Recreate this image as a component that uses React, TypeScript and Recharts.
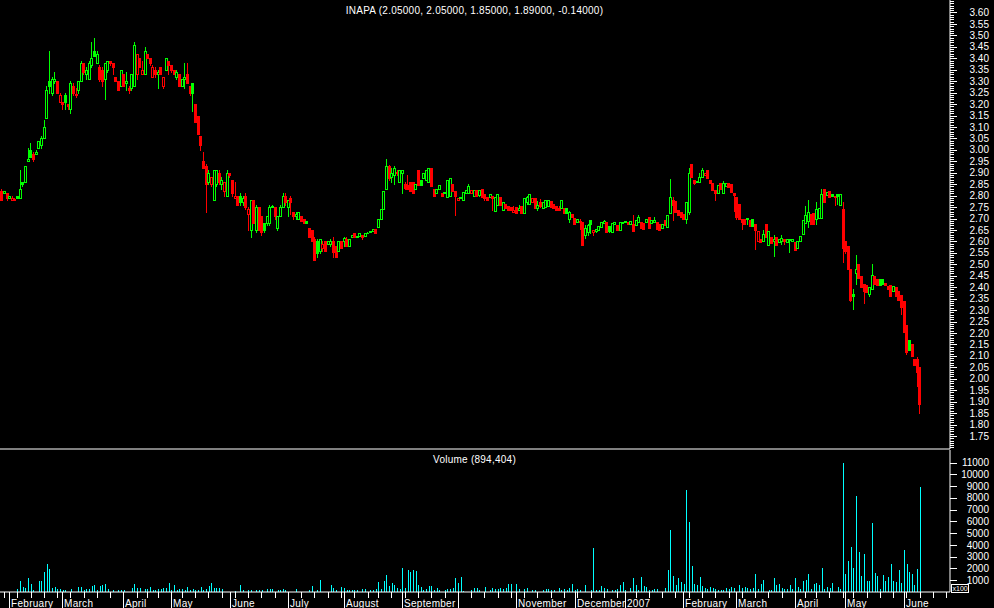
import React from "react";
import { ComposedChart, Bar, XAxis, YAxis } from "recharts";

// daily candles, Jan 27 2006 .. Jun 2007 (one row of 10 per line)
const opens = [
  2.82, 2.81, 2.81, 2.79, 2.78, 2.78, 2.8, 2.79, 2.86, 2.86,
  2.95, 3.0, 2.98, 2.98, 3.01, 3.02, 3.05, 3.14, 3.3, 3.25,
  3.3, 3.3, 3.21, 3.21, 3.24, 3.2, 3.18, 3.28, 3.24, 3.26,
  3.3, 3.38, 3.33, 3.31, 3.37, 3.43, 3.38, 3.36, 3.35, 3.31,
  3.35, 3.39, 3.38, 3.32, 3.3, 3.28, 3.33, 3.29, 3.27, 3.27,
  3.28, 3.33, 3.4, 3.33, 3.33, 3.42, 3.4, 3.32, 3.35, 3.33,
  3.36, 3.28, 3.35, 3.39, 3.37, 3.35, 3.32, 3.33, 3.28, 3.31,
  3.33, 3.28, 3.29, 3.2, 3.15, 3.06, 2.95, 2.93, 2.86, 2.85,
  2.78, 2.85, 2.9, 2.85, 2.82, 2.8, 2.9, 2.87, 2.79, 2.8,
  2.8, 2.77, 2.8, 2.72, 2.65, 2.78, 2.65, 2.75, 2.71, 2.68,
  2.68, 2.68, 2.75, 2.75, 2.66, 2.71, 2.75, 2.8, 2.75, 2.79,
  2.73, 2.71, 2.7, 2.71, 2.7, 2.69, 2.66, 2.65, 2.61, 2.6,
  2.56, 2.57, 2.6, 2.59, 2.59, 2.6, 2.58, 2.56, 2.6, 2.6,
  2.61, 2.58, 2.62, 2.635, 2.62, 2.625, 2.63, 2.625, 2.635, 2.64,
  2.645, 2.655, 2.665, 2.7, 2.74, 2.83, 2.93, 2.88, 2.89, 2.905,
  2.86, 2.9, 2.85, 2.845, 2.86, 2.86, 2.83, 2.91, 2.87, 2.875,
  2.87, 2.86, 2.92, 2.83, 2.81, 2.83, 2.81, 2.81, 2.795, 2.8,
  2.85, 2.82, 2.78, 2.795, 2.78, 2.81, 2.81, 2.81, 2.8, 2.825,
  2.802, 2.831, 2.809, 2.794, 2.794, 2.8, 2.733, 2.758, 2.794, 2.736,
  2.762, 2.754, 2.751, 2.728, 2.751, 2.735, 2.754, 2.724, 2.77, 2.765,
  2.772, 2.791, 2.748, 2.77, 2.748, 2.751, 2.754, 2.777, 2.762, 2.754,
  2.748, 2.748, 2.748, 2.745, 2.7, 2.72, 2.702, 2.685, 2.685, 2.685,
  2.63, 2.64, 2.692, 2.641, 2.645, 2.651, 2.663, 2.68, 2.685, 2.666,
  2.641, 2.675, 2.67, 2.651, 2.681, 2.684, 2.685, 2.675, 2.675, 2.67,
  2.685, 2.685, 2.68, 2.685, 2.707, 2.681, 2.685, 2.685, 2.675, 2.66,
  2.692, 2.663, 2.724, 2.78, 2.777, 2.736, 2.73, 2.72, 2.7, 2.73,
  2.94, 2.87, 2.865, 2.86, 2.88, 2.89, 2.91, 2.87, 2.855, 2.825,
  2.81, 2.853, 2.81, 2.84, 2.853, 2.85, 2.81, 2.794, 2.765, 2.7,
  2.7, 2.7, 2.695, 2.7, 2.675, 2.602, 2.612, 2.602, 2.675, 2.583,
  2.619, 2.6, 2.619, 2.597, 2.6, 2.61, 2.597, 2.605, 2.602, 2.597,
  2.573, 2.602, 2.634, 2.68, 2.69, 2.72, 2.724, 2.7, 2.704, 2.704,
  2.831, 2.802, 2.82, 2.806, 2.8, 2.809, 2.76, 2.74, 2.6, 2.58,
  2.48, 2.37, 2.46, 2.5, 2.45, 2.415, 2.41, 2.37, 2.39, 2.45,
  2.435, 2.435, 2.435, 2.42, 2.406, 2.41, 2.383, 2.4, 2.383, 2.364,
  2.34, 2.233, 2.17, 2.153, 2.087, 2.087, 2.05,
];
const highs = [
  2.83, 2.82, 2.81, 2.8, 2.8, 2.79, 2.8, 2.91, 2.86, 2.93,
  3.01, 3.03, 2.99, 3.0, 3.04, 3.06, 3.13, 3.28, 3.43, 3.32,
  3.34, 3.3, 3.25, 3.21, 3.25, 3.2, 3.3, 3.29, 3.27, 3.3,
  3.39, 3.38, 3.36, 3.39, 3.47, 3.49, 3.43, 3.37, 3.36, 3.38,
  3.39, 3.39, 3.38, 3.32, 3.3, 3.35, 3.33, 3.34, 3.28, 3.33,
  3.47, 3.42, 3.4, 3.39, 3.45, 3.42, 3.4, 3.37, 3.36, 3.35,
  3.36, 3.32, 3.4, 3.39, 3.37, 3.35, 3.35, 3.33, 3.31, 3.38,
  3.38, 3.28, 3.29, 3.2, 3.15, 3.06, 2.99, 2.94, 2.91, 2.88,
  2.91, 2.91, 2.91, 2.88, 2.86, 2.91, 2.9, 2.87, 2.86, 2.8,
  2.81, 2.8, 2.81, 2.75, 2.78, 2.78, 2.76, 2.75, 2.71, 2.68,
  2.71, 2.76, 2.76, 2.75, 2.71, 2.76, 2.81, 2.81, 2.78, 2.8,
  2.73, 2.73, 2.73, 2.71, 2.7, 2.69, 2.66, 2.65, 2.62, 2.61,
  2.61, 2.6, 2.6, 2.6, 2.61, 2.62, 2.58, 2.6, 2.6, 2.62,
  2.62, 2.61, 2.63, 2.635, 2.625, 2.635, 2.63, 2.635, 2.64, 2.645,
  2.655, 2.655, 2.7, 2.74, 2.82, 2.96, 2.935, 2.92, 2.93, 2.91,
  2.91, 2.91, 2.86, 2.89, 2.86, 2.86, 2.85, 2.91, 2.87, 2.9,
  2.91, 2.92, 2.92, 2.83, 2.83, 2.845, 2.81, 2.815, 2.87, 2.875,
  2.85, 2.82, 2.79, 2.795, 2.815, 2.825, 2.85, 2.825, 2.825, 2.825,
  2.823, 2.831, 2.809, 2.794, 2.806, 2.8, 2.794, 2.806, 2.794, 2.772,
  2.762, 2.754, 2.751, 2.754, 2.751, 2.758, 2.754, 2.791, 2.8, 2.806,
  2.791, 2.791, 2.777, 2.787, 2.772, 2.78, 2.783, 2.777, 2.762, 2.754,
  2.754, 2.783, 2.748, 2.745, 2.733, 2.72, 2.702, 2.7, 2.7, 2.685,
  2.67, 2.678, 2.692, 2.65, 2.656, 2.666, 2.685, 2.692, 2.685, 2.666,
  2.681, 2.685, 2.67, 2.685, 2.685, 2.69, 2.685, 2.69, 2.714, 2.692,
  2.714, 2.685, 2.68, 2.7, 2.707, 2.692, 2.707, 2.685, 2.675, 2.675,
  2.692, 2.714, 2.874, 2.794, 2.777, 2.736, 2.73, 2.72, 2.77, 2.92,
  2.94, 2.87, 2.865, 2.9, 2.92, 2.9, 2.91, 2.87, 2.855, 2.825,
  2.845, 2.853, 2.862, 2.853, 2.853, 2.85, 2.81, 2.794, 2.765, 2.7,
  2.7, 2.704, 2.695, 2.7, 2.675, 2.646, 2.612, 2.651, 2.675, 2.646,
  2.619, 2.627, 2.619, 2.612, 2.627, 2.612, 2.612, 2.612, 2.612, 2.597,
  2.602, 2.622, 2.695, 2.754, 2.78, 2.72, 2.724, 2.772, 2.748, 2.831,
  2.831, 2.816, 2.82, 2.806, 2.8, 2.809, 2.806, 2.77, 2.6, 2.58,
  2.48, 2.39, 2.54, 2.5, 2.45, 2.415, 2.41, 2.4, 2.5, 2.45,
  2.435, 2.435, 2.435, 2.42, 2.406, 2.41, 2.403, 2.4, 2.383, 2.364,
  2.34, 2.233, 2.17, 2.153, 2.087, 2.093, 2.05,
];
const lows = [
  2.78, 2.81, 2.78, 2.79, 2.78, 2.78, 2.79, 2.79, 2.84, 2.86,
  2.95, 2.97, 2.95, 2.98, 3.01, 3.01, 3.05, 3.14, 3.25, 3.24,
  3.29, 3.25, 3.21, 3.18, 3.18, 3.18, 3.16, 3.24, 3.23, 3.25,
  3.3, 3.33, 3.31, 3.31, 3.36, 3.41, 3.38, 3.3, 3.28, 3.22,
  3.34, 3.37, 3.33, 3.3, 3.26, 3.28, 3.28, 3.26, 3.25, 3.26,
  3.28, 3.31, 3.36, 3.33, 3.33, 3.4, 3.37, 3.32, 3.32, 3.27,
  3.33, 3.27, 3.35, 3.33, 3.34, 3.33, 3.31, 3.28, 3.28, 3.27,
  3.29, 3.24, 3.17, 3.12, 3.07, 3.0, 2.92, 2.73, 2.85, 2.84,
  2.78, 2.84, 2.85, 2.83, 2.8, 2.8, 2.88, 2.8, 2.79, 2.76,
  2.76, 2.76, 2.74, 2.65, 2.62, 2.68, 2.64, 2.65, 2.63, 2.64,
  2.67, 2.67, 2.75, 2.7, 2.65, 2.71, 2.75, 2.76, 2.71, 2.72,
  2.7, 2.7, 2.7, 2.69, 2.68, 2.68, 2.62, 2.6, 2.52, 2.53,
  2.55, 2.56, 2.56, 2.59, 2.58, 2.53, 2.53, 2.56, 2.57, 2.58,
  2.58, 2.58, 2.62, 2.62, 2.62, 2.625, 2.61, 2.625, 2.635, 2.64,
  2.645, 2.635, 2.665, 2.7, 2.74, 2.83, 2.87, 2.86, 2.85, 2.89,
  2.86, 2.81, 2.83, 2.83, 2.82, 2.81, 2.83, 2.845, 2.845, 2.875,
  2.87, 2.86, 2.84, 2.8, 2.81, 2.83, 2.8, 2.81, 2.795, 2.8,
  2.82, 2.715, 2.78, 2.79, 2.78, 2.81, 2.81, 2.81, 2.8, 2.8,
  2.8, 2.794, 2.78, 2.78, 2.794, 2.736, 2.733, 2.758, 2.758, 2.736,
  2.748, 2.739, 2.736, 2.728, 2.724, 2.735, 2.724, 2.724, 2.765, 2.765,
  2.772, 2.748, 2.739, 2.751, 2.748, 2.751, 2.754, 2.751, 2.748, 2.736,
  2.735, 2.748, 2.724, 2.724, 2.685, 2.707, 2.678, 2.685, 2.656, 2.583,
  2.617, 2.627, 2.637, 2.627, 2.641, 2.651, 2.663, 2.68, 2.641, 2.64,
  2.641, 2.675, 2.649, 2.651, 2.681, 2.684, 2.675, 2.675, 2.646, 2.67,
  2.685, 2.66, 2.656, 2.685, 2.66, 2.681, 2.685, 2.656, 2.651, 2.66,
  2.67, 2.663, 2.724, 2.692, 2.73, 2.714, 2.707, 2.7, 2.68, 2.72,
  2.88, 2.85, 2.86, 2.86, 2.88, 2.89, 2.875, 2.855, 2.825, 2.78,
  2.81, 2.83, 2.81, 2.84, 2.838, 2.816, 2.733, 2.7, 2.7, 2.656,
  2.678, 2.678, 2.666, 2.666, 2.565, 2.602, 2.597, 2.602, 2.619, 2.583,
  2.593, 2.535, 2.583, 2.597, 2.587, 2.587, 2.597, 2.554, 2.602, 2.564,
  2.573, 2.602, 2.634, 2.68, 2.663, 2.678, 2.675, 2.678, 2.704, 2.704,
  2.772, 2.802, 2.794, 2.8, 2.758, 2.765, 2.76, 2.51, 2.55, 2.48,
  2.34, 2.305, 2.415, 2.44, 2.4, 2.33, 2.38, 2.36, 2.39, 2.415,
  2.41, 2.41, 2.415, 2.41, 2.392, 2.36, 2.383, 2.36, 2.345, 2.284,
  2.204, 2.11, 2.124, 2.1, 2.058, 1.97, 1.85,
];
const closes = [
  2.78, 2.82, 2.79, 2.8, 2.79, 2.785, 2.79, 2.83, 2.85, 2.93,
  2.96, 2.97, 2.96, 2.99, 3.04, 3.05, 3.1, 3.26, 3.28, 3.31,
  3.31, 3.25, 3.24, 3.2, 3.21, 3.19, 3.29, 3.25, 3.245, 3.3,
  3.38, 3.34, 3.35, 3.38, 3.4, 3.41, 3.42, 3.31, 3.3, 3.38,
  3.39, 3.38, 3.36, 3.3, 3.26, 3.35, 3.28, 3.3, 3.26, 3.33,
  3.46, 3.42, 3.36, 3.35, 3.43, 3.4, 3.38, 3.36, 3.33, 3.34,
  3.33, 3.32, 3.4, 3.37, 3.35, 3.33, 3.34, 3.28, 3.31, 3.32,
  3.29, 3.25, 3.25, 3.12, 3.07, 3.02, 2.92, 2.85, 2.9, 2.88,
  2.91, 2.91, 2.86, 2.87, 2.86, 2.9, 2.89, 2.81, 2.8, 2.76,
  2.77, 2.79, 2.75, 2.74, 2.78, 2.68, 2.75, 2.65, 2.64, 2.65,
  2.71, 2.75, 2.755, 2.71, 2.71, 2.75, 2.8, 2.77, 2.78, 2.77,
  2.71, 2.72, 2.73, 2.69, 2.68, 2.68, 2.62, 2.6, 2.52, 2.55,
  2.61, 2.59, 2.56, 2.6, 2.6, 2.555, 2.53, 2.6, 2.57, 2.615,
  2.58, 2.61, 2.63, 2.62, 2.625, 2.635, 2.62, 2.635, 2.637, 2.645,
  2.655, 2.635, 2.7, 2.74, 2.82, 2.93, 2.875, 2.9, 2.92, 2.9,
  2.91, 2.91, 2.835, 2.83, 2.82, 2.81, 2.85, 2.845, 2.845, 2.9,
  2.91, 2.92, 2.84, 2.8, 2.83, 2.845, 2.8, 2.815, 2.87, 2.875,
  2.82, 2.8, 2.79, 2.79, 2.815, 2.825, 2.84, 2.825, 2.825, 2.8,
  2.823, 2.794, 2.79, 2.78, 2.806, 2.79, 2.794, 2.806, 2.758, 2.772,
  2.748, 2.739, 2.736, 2.735, 2.724, 2.745, 2.724, 2.791, 2.795, 2.806,
  2.791, 2.748, 2.76, 2.755, 2.772, 2.78, 2.783, 2.751, 2.748, 2.736,
  2.735, 2.783, 2.724, 2.724, 2.73, 2.707, 2.678, 2.7, 2.69, 2.583,
  2.66, 2.67, 2.675, 2.65, 2.656, 2.666, 2.685, 2.69, 2.641, 2.645,
  2.681, 2.685, 2.649, 2.685, 2.685, 2.69, 2.675, 2.69, 2.646, 2.692,
  2.707, 2.66, 2.656, 2.7, 2.66, 2.692, 2.692, 2.656, 2.651, 2.675,
  2.67, 2.714, 2.794, 2.76, 2.73, 2.714, 2.707, 2.7, 2.77, 2.9,
  2.88, 2.855, 2.86, 2.88, 2.91, 2.9, 2.875, 2.855, 2.825, 2.81,
  2.845, 2.83, 2.853, 2.853, 2.838, 2.816, 2.802, 2.705, 2.7, 2.685,
  2.678, 2.704, 2.666, 2.666, 2.651, 2.646, 2.597, 2.634, 2.619, 2.646,
  2.593, 2.61, 2.583, 2.612, 2.614, 2.6, 2.612, 2.612, 2.612, 2.564,
  2.602, 2.622, 2.695, 2.714, 2.728, 2.678, 2.675, 2.74, 2.748, 2.806,
  2.772, 2.816, 2.794, 2.8, 2.794, 2.8, 2.806, 2.57, 2.56, 2.48,
  2.345, 2.36, 2.48, 2.44, 2.4, 2.385, 2.38, 2.4, 2.455, 2.415,
  2.41, 2.41, 2.415, 2.41, 2.392, 2.36, 2.403, 2.36, 2.345, 2.313,
  2.204, 2.116, 2.124, 2.1, 2.058, 2.03, 1.89,
];
// volume in hundreds of shares
const volumes = [
  0, 0, 0, 0, 0, 0, 230, 900, 400, 300,
  1160, 700, 200, 0, 900, 900, 1670, 2400, 1920, 340,
  400, 230, 230, 140, 140, 0, 230, 0, 0, 400,
  400, 140, 230, 230, 480, 570, 140, 480, 570, 700,
  230, 0, 140, 0, 140, 140, 140, 0, 0, 310,
  650, 310, 310, 0, 230, 230, 400, 140, 140, 230,
  230, 310, 310, 740, 140, 570, 140, 230, 230, 140,
  400, 140, 230, 140, 140, 400, 140, 230, 480, 740,
  310, 310, 310, 230, 0, 0, 0, 0, 100, 0,
  570, 140, 0, 140, 140, 0, 140, 140, 140, 0,
  230, 230, 230, 0, 140, 140, 230, 140, 0, 0,
  0, 230, 0, 0, 0, 0, 140, 480, 0, 140,
  990, 0, 0, 0, 570, 310, 140, 0, 400, 310,
  140, 140, 140, 140, 140, 0, 230, 230, 0, 140,
  140, 230, 820, 230, 900, 1420, 480, 740, 570, 310,
  230, 2010, 310, 1840, 1670, 1840, 1750, 570, 400, 140,
  230, 480, 480, 140, 310, 140, 0, 140, 230, 230,
  310, 1160, 740, 1250, 100, 0, 0, 140, 310, 310,
  140, 0, 400, 0, 140, 310, 230, 230, 310, 230,
  310, 700, 700, 0, 650, 230, 0, 230, 310, 0,
  140, 140, 0, 0, 140, 230, 230, 140, 140, 0,
  310, 140, 230, 140, 310, 700, 140, 230, 140, 0,
  570, 0, 140, 3700, 140, 140, 480, 310, 230, 0,
  140, 140, 230, 570, 820, 140, 0, 310, 1160, 570,
  140, 1250, 480, 400, 140, 140, 230, 230, 0, 0,
  310, 1900, 5300, 1330, 570, 1160, 820, 650, 8630, 5920,
  2180, 650, 570, 1250, 480, 310, 230, 400, 310, 230,
  140, 140, 140, 310, 230, 400, 310, 0, 570, 310,
  400, 310, 230, 310, 1560, 230, 700, 990, 0, 140,
  140, 1160, 570, 700, 310, 230, 230, 570, 230, 1160,
  400, 230, 940, 990, 1500, 230, 650, 740, 570, 2010,
  230, 400, 310, 740, 0, 400, 230, 11000, 1560, 2600,
  3790, 2010, 8120, 3370, 1330, 3200, 900, 900, 5830, 1590,
  1330, 230, 1420, 900, 1250, 2350, 900, 820, 1840, 740,
  3540, 2350, 1670, 1500, 570, 1930, 8890,
];

// first trading day of each month (candle index) and its label
const monthStarts = [3, 23, 46, 64, 86, 108, 129, 151, 172, 194, 216, 235, 257, 277, 299, 318, 340];
const monthLabels = [
  "February", "March", "April", "May", "June", "July", "August", "September", "",
  "November", "December", "2007", "February", "March", "April", "May", "June",
];
// first trading day of each week
const weekStarts = [
  1, 6, 11, 16, 21, 26, 31, 36, 41, 46, 51, 55, 59, 64, 68, 73, 78, 83, 88, 93,
  98, 103, 108, 113, 118, 123, 128, 133, 138, 142, 147, 152, 157, 162, 167, 172,
  177, 182, 187, 192, 197, 202, 207, 212, 217, 222, 227, 232, 235, 239, 244, 249,
  254, 259, 264, 269, 274, 279, 284, 289, 294, 299, 303, 307, 312, 317, 321, 326,
  331, 336, 341, 346, 351, 356,
];
const priceLabels = [
  1.75, 1.8, 1.85, 1.9, 1.95, 2.0, 2.05, 2.1, 2.15, 2.2, 2.25, 2.3, 2.35, 2.4,
  2.45, 2.5, 2.55, 2.6, 2.65, 2.7, 2.75, 2.8, 2.85, 2.9, 2.95, 3.0, 3.05, 3.1,
  3.15, 3.2, 3.25, 3.3, 3.35, 3.4, 3.45, 3.5, 3.55, 3.6,
];
const volumeLabels = [1000, 2000, 3000, 4000, 5000, 6000, 7000, 8000, 9000, 10000, 11000];

const GREEN = "#00ff00";
const RED = "#ff0000";
const CYAN = "#00ffff";
const FONT = "'Liberation Sans', Arial, sans-serif";
const SLOTS = 357.95;
const PRICE_MIN = 1.693;
const PRICE_MAX = 3.6546;
const VOL_MAX = 12065;

const rows = opens.map((o, i) => ({
  x: i + 0.5,
  range: [lows[i], highs[i]],
  o,
  h: highs[i],
  l: lows[i],
  c: closes[i],
  pc: i > 0 ? closes[i - 1] : o,
  vol: volumes[i],
}));

const minorPrice: number[] = [];
for (let k = 170; k <= 365; k++) minorPrice.push(k / 100);

const xTicks = Array.from(new Set([...weekStarts, ...monthStarts]))
  .sort((a, b) => a - b)
  .map((i) => i + 0.5);

function Candle(props: any) {
  const { x, y, width, height, payload } = props;
  if (x == null || y == null || !payload) return null;
  const { o, h, l, c, pc } = payload;
  const cx = Math.round(x + width / 2);
  const span = h - l;
  const toY = (v: number) => (span > 0 ? y + ((h - v) / span) * height : y);
  const color = c >= pc ? GREEN : RED;
  const yH = Math.round(toY(h));
  const yL = Math.round(toY(l));
  const yTop = Math.round(toY(Math.max(o, c)));
  const yBot = Math.round(toY(Math.min(o, c)));
  const hollow = c > o && yBot - yTop >= 2;
  if (hollow) {
    return (
      <g shapeRendering="crispEdges">
        {yTop > yH && <rect x={cx} y={yH} width={1} height={yTop - yH} fill={color} />}
        {yL > yBot && <rect x={cx} y={yBot + 1} width={1} height={yL - yBot} fill={color} />}
        <rect x={cx - 0.5} y={yTop + 0.5} width={2} height={yBot - yTop} fill="none" stroke={color} />
      </g>
    );
  }
  return (
    <g shapeRendering="crispEdges">
      <rect x={cx} y={yH} width={1} height={Math.max(1, yL - yH + 1)} fill={color} />
      <rect x={cx - 1} y={yTop} width={3} height={Math.max(1, yBot - yTop + 1)} fill={color} />
    </g>
  );
}

function VolBar(props: any) {
  const { x, y, width, height } = props;
  if (x == null || !height || height < 0.5) return null;
  const cx = Math.round(x + width / 2);
  const top = Math.round(y);
  const bot = Math.round(y + height);
  return <rect x={cx} y={top} width={1} height={Math.max(1, bot - top)} fill={CYAN} shapeRendering="crispEdges" />;
}

function PriceTick(props: any) {
  const { y, payload } = props;
  const v = payload.value;
  const major = priceLabels.some((p) => Math.abs(p - v) < 1e-6);
  const yy = Math.round(y) + 0.5;
  return (
    <g>
      <line x1={950} x2={major ? 957 : 954} y1={yy} y2={yy} stroke="#fff" shapeRendering="crispEdges" />
      {major && (
        <text x={989} y={y + 3.6} textAnchor="end" fill="#fff" fontSize={10} fontFamily={FONT}>
          {v.toFixed(2)}
        </text>
      )}
    </g>
  );
}

function VolTick(props: any) {
  const { y, payload } = props;
  const yy = Math.round(y) + 0.5;
  return (
    <g>
      <line x1={950} x2={957} y1={yy} y2={yy} stroke="#fff" shapeRendering="crispEdges" />
      <text x={989} y={y + 3.6} textAnchor="end" fill="#fff" fontSize={10} fontFamily={FONT}>
        {payload.value}
      </text>
    </g>
  );
}

function DateTick(props: any) {
  const { x, payload } = props;
  const idx = payload.value - 0.5;
  const m = monthStarts.indexOf(idx);
  const xx = Math.round(x) + 0.5;
  return (
    <g>
      <line x1={xx} x2={xx} y1={143} y2={m >= 0 ? 159 : 149} stroke="#fff" shapeRendering="crispEdges" />
      {m >= 0 && monthLabels[m] && (
        <text x={xx + 1.5} y={157.5} fill="#fff" fontSize={10} letterSpacing={0.3} fontFamily={FONT}>
          {monthLabels[m]}
        </text>
      )}
    </g>
  );
}

export default function App() {
  return (
    <div style={{ position: "absolute", left: 0, top: 0, width: 994, height: 608, background: "#000", overflow: "hidden" }}>
      <div style={{ position: "absolute", left: 0, top: 0 }}>
        <ComposedChart width={994} height={450} data={rows} margin={{ top: 0, right: 0, bottom: 0, left: 0 }}>
          <XAxis type="number" dataKey="x" domain={[0, SLOTS]} height={1} tick={false} tickLine={false}
            axisLine={{ stroke: "#fff" }} allowDataOverflow />
          <YAxis type="number" orientation="right" width={44} domain={[PRICE_MIN, PRICE_MAX]} ticks={minorPrice}
            interval={0} tickLine={false} axisLine={{ stroke: "#fff" }} tick={<PriceTick />} allowDataOverflow />
          <Bar dataKey="range" barSize={3} shape={(p: any) => <Candle {...p} />} isAnimationActive={false} />
        </ComposedChart>
      </div>
      <div style={{ position: "absolute", left: 0, top: 449 }}>
        <ComposedChart width={994} height={159} data={rows} margin={{ top: 1, right: 0, bottom: 0, left: 0 }}>
          <XAxis type="number" dataKey="x" domain={[0, SLOTS]} height={16} ticks={xTicks} interval={0}
            tickLine={false} axisLine={{ stroke: "#fff" }} tick={<DateTick />} allowDataOverflow />
          <YAxis type="number" orientation="right" width={44} domain={[0, VOL_MAX]} ticks={volumeLabels}
            interval={0} tickLine={false} axisLine={{ stroke: "#fff" }} tick={<VolTick />} allowDataOverflow />
          <Bar dataKey="vol" barSize={1} shape={(p: any) => <VolBar {...p} />} isAnimationActive={false} />
        </ComposedChart>
      </div>
      <svg width={994} height={608} style={{ position: "absolute", left: 0, top: 0, pointerEvents: "none" }}>
        <text x={474.5} y={13.5} textAnchor="middle" fill="#fff" fontSize={10} letterSpacing={0.25} fontFamily={FONT}>
          INAPA (2.05000, 2.05000, 1.85000, 1.89000, -0.14000)
        </text>
        <text x={474.5} y={462.5} textAnchor="middle" fill="#fff" fontSize={10} letterSpacing={0.25} fontFamily={FONT}>
          Volume (894,404)
        </text>
        <rect x={951.5} y={584.5} width={17} height={7.5} fill="#000" stroke="#fff" shapeRendering="crispEdges" />
        <text x={952.5} y={591} fill="#fff" fontSize={7} fontFamily={FONT}>x100</text>
      </svg>
    </div>
  );
}
